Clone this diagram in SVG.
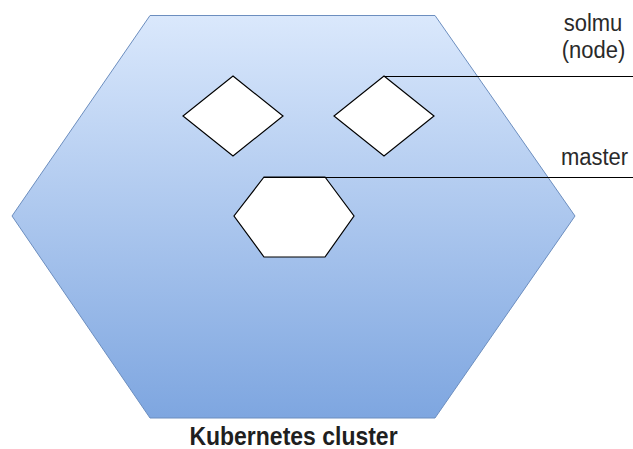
<svg xmlns="http://www.w3.org/2000/svg" width="633" height="449" viewBox="0 0 633 449">
<defs>
<linearGradient id="g" x1="0" y1="0" x2="0" y2="1">
<stop offset="0" stop-color="#dae8fc"/>
<stop offset="1" stop-color="#7ea6e0"/>
</linearGradient>
<style>
.sh{fill:#ffffff;stroke:#000000;stroke-width:1.2}
.ln{fill:none;stroke:#000000;stroke-width:1.2}
.t{font-family:"Liberation Sans",Arial,sans-serif;font-size:22px;fill:#2a2a2a}
</style>
</defs>
<rect width="633" height="449" fill="#ffffff"/>
<g id="cluster">
<polygon points="150,15.5 435,15.5 575,216 435,418 150,418 12,216" fill="url(#g)" stroke="#6c8ebf" stroke-width="1"/>
<text class="t" transform="translate(293.5,445) scale(1,1.1)" text-anchor="middle" font-weight="bold" style="font-size:23px;fill:#1f1f1f">Kubernetes cluster</text>
</g>
<g id="node1">
<polygon class="sh" points="233,76 283,116 233,156 183,116"/>
</g>
<g id="node2">
<polygon class="sh" points="384,76 434,116 384,156 334,116"/>
</g>
<g id="master">
<polygon class="sh" points="264,177 325,177 354,216 325,257 264,257 234,216"/>
</g>
<g id="connectors">
<path class="ln" d="M384,76.5 H633"/>
<path class="ln" d="M264,177.5 H633"/>
</g>
<g id="labels">
<text class="t" transform="translate(593,31) scale(1,1.1)" text-anchor="middle">solmu</text>
<text class="t" transform="translate(593.5,58) scale(1,1.1)" text-anchor="middle">(node)</text>
<text class="t" transform="translate(594.5,165) scale(1,1.1)" text-anchor="middle">master</text>
</g>
</svg>
